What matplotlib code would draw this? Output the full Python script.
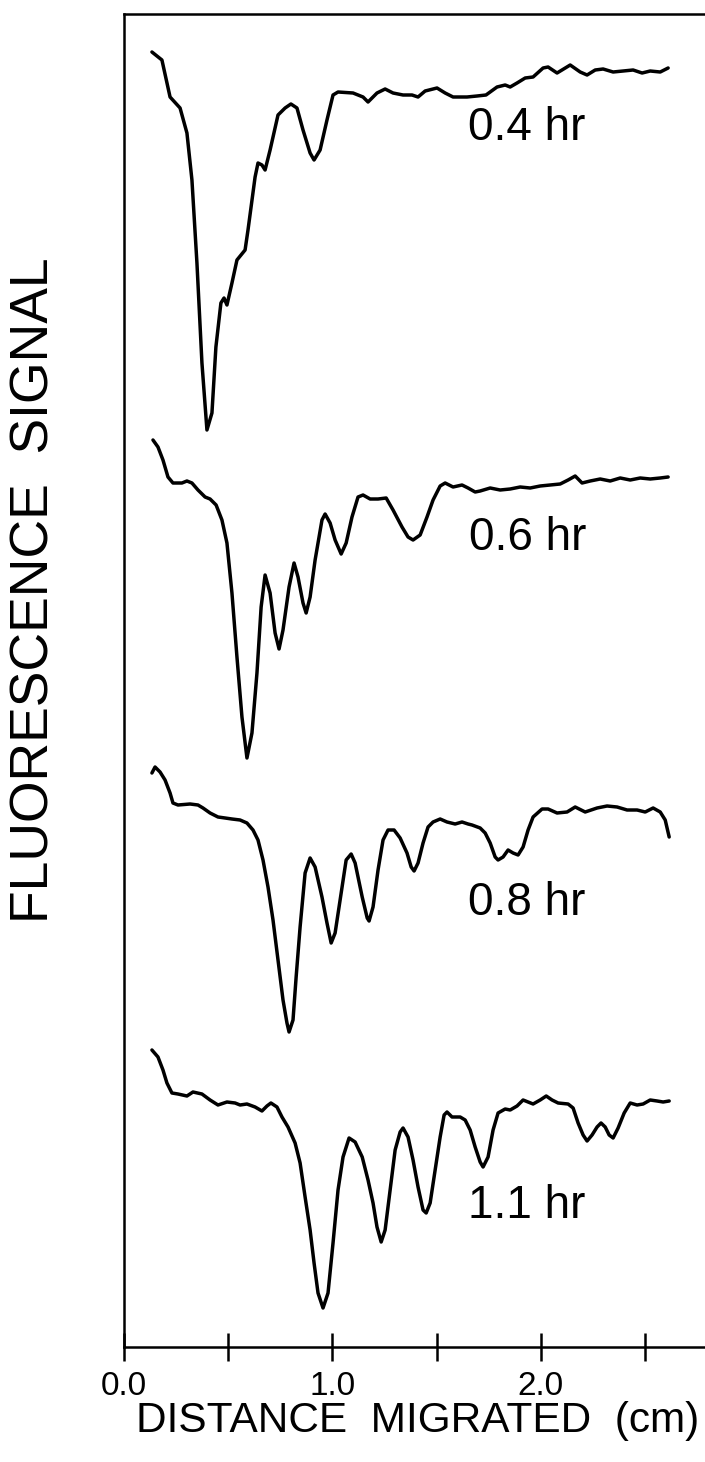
import matplotlib
matplotlib.use("Agg")
import matplotlib.pyplot as plt

plt.rcParams['font.family'] = ['Liberation Sans', 'DejaVu Sans']

# ---------------- data (distance in cm, fluorescence signal in arbitrary units) ----------------
labels = ["0.4 hr", "0.6 hr", "0.8 hr", "1.1 hr"]

x_04 = [0.134, 0.182, 0.221, 0.269, 0.302, 0.326, 0.350, 0.374, 0.398, 0.422, 0.441, 0.465,
        0.480, 0.494, 0.518, 0.542, 0.581, 0.595, 0.629, 0.643, 0.662, 0.677, 0.701, 0.739,
        0.773, 0.801, 0.830, 0.859, 0.893, 0.912, 0.941, 0.974, 1.003, 1.027, 1.099, 1.147,
        1.171, 1.214, 1.253, 1.291, 1.339, 1.382, 1.411, 1.445, 1.502, 1.541, 1.579, 1.646,
        1.694, 1.737, 1.790, 1.829, 1.853, 1.886, 1.925, 1.963, 2.011, 2.035, 2.078, 2.141,
        2.189, 2.222, 2.261, 2.299, 2.347, 2.395, 2.443, 2.486, 2.525, 2.573, 2.611]
y_04 = [1295, 1287, 1250, 1239, 1214, 1167, 1084, 984, 917, 934, 1000, 1044,
        1049, 1042, 1064, 1087, 1097, 1117, 1170, 1184, 1182, 1177, 1197, 1232,
        1239, 1243, 1239, 1217, 1194, 1187, 1197, 1227, 1252, 1255, 1254, 1250,
        1245, 1254, 1258, 1254, 1252, 1252, 1250, 1256, 1259, 1254, 1250, 1250,
        1251, 1252, 1260, 1262, 1260, 1264, 1269, 1270, 1279, 1280, 1274, 1282,
        1275, 1272, 1277, 1278, 1275, 1276, 1277, 1274, 1276, 1275, 1279]

x_06 = [0.139, 0.163, 0.187, 0.211, 0.235, 0.278, 0.302, 0.326, 0.355, 0.389, 0.413, 0.442,
        0.470, 0.494, 0.518, 0.542, 0.566, 0.590, 0.614, 0.638, 0.658, 0.677, 0.701, 0.725,
        0.744, 0.763, 0.792, 0.816, 0.835, 0.859, 0.874, 0.893, 0.917, 0.950, 0.965, 0.989,
        1.013, 1.042, 1.066, 1.094, 1.123, 1.147, 1.181, 1.219, 1.258, 1.291, 1.334, 1.363,
        1.387, 1.421, 1.454, 1.483, 1.517, 1.541, 1.579, 1.622, 1.651, 1.685, 1.709, 1.757,
        1.805, 1.853, 1.901, 1.949, 1.997, 2.045, 2.093, 2.131, 2.165, 2.198, 2.237, 2.285,
        2.333, 2.381, 2.429, 2.477, 2.525, 2.573, 2.611]
y_06 = [907, 900, 887, 870, 864, 864, 866, 864, 857, 850, 848, 842,
        827, 804, 754, 690, 630, 589, 614, 674, 740, 772, 754, 714,
        698, 717, 760, 784, 770, 744, 734, 750, 787, 827, 833, 824,
        807, 793, 804, 830, 850, 852, 848, 848, 849, 837, 820, 810,
        807, 812, 830, 847, 861, 864, 860, 862, 859, 855, 856, 859,
        857, 858, 860, 859, 861, 862, 863, 867, 871, 864, 866, 868,
        866, 869, 867, 869, 868, 869, 870]

x_08 = [0.134, 0.149, 0.173, 0.197, 0.221, 0.235, 0.259, 0.317, 0.355, 0.379, 0.413, 0.451,
        0.485, 0.518, 0.557, 0.590, 0.619, 0.643, 0.667, 0.691, 0.715, 0.739, 0.763, 0.782,
        0.792, 0.811, 0.826, 0.845, 0.869, 0.893, 0.917, 0.950, 0.974, 0.994, 1.013, 1.037,
        1.066, 1.090, 1.109, 1.143, 1.167, 1.176, 1.195, 1.219, 1.243, 1.267, 1.296, 1.325,
        1.358, 1.378, 1.392, 1.411, 1.435, 1.459, 1.483, 1.517, 1.550, 1.589, 1.622, 1.651,
        1.670, 1.709, 1.733, 1.757, 1.781, 1.795, 1.819, 1.843, 1.867, 1.891, 1.915, 1.939,
        1.963, 2.006, 2.035, 2.078, 2.126, 2.165, 2.213, 2.270, 2.318, 2.366, 2.414, 2.462,
        2.501, 2.539, 2.573, 2.597, 2.616]
y_08 = [574, 580, 575, 567, 554, 544, 542, 543, 542, 539, 534, 530,
        529, 528, 527, 524, 517, 507, 487, 460, 427, 387, 347, 324,
        315, 327, 370, 420, 474, 489, 480, 450, 424, 404, 414, 447,
        487, 493, 484, 450, 429, 426, 440, 477, 507, 517, 517, 509,
        494, 480, 476, 484, 504, 520, 525, 528, 525, 523, 525, 523,
        522, 519, 514, 504, 490, 487, 490, 497, 494, 492, 500, 517,
        530, 538, 538, 534, 535, 540, 535, 539, 541, 540, 537, 537,
        535, 539, 535, 527, 510]

x_11 = [0.134, 0.163, 0.187, 0.206, 0.230, 0.259, 0.302, 0.331, 0.374, 0.413, 0.451, 0.494,
        0.533, 0.557, 0.590, 0.629, 0.662, 0.686, 0.705, 0.734, 0.758, 0.787, 0.821, 0.845,
        0.869, 0.893, 0.912, 0.931, 0.955, 0.979, 1.003, 1.027, 1.051, 1.080, 1.109, 1.143,
        1.171, 1.195, 1.214, 1.234, 1.253, 1.277, 1.301, 1.325, 1.339, 1.363, 1.387, 1.411,
        1.435, 1.450, 1.469, 1.493, 1.517, 1.536, 1.550, 1.574, 1.613, 1.637, 1.661, 1.685,
        1.709, 1.723, 1.747, 1.771, 1.795, 1.829, 1.853, 1.886, 1.915, 1.939, 1.963, 1.997,
        2.026, 2.054, 2.083, 2.131, 2.155, 2.179, 2.203, 2.222, 2.246, 2.270, 2.289, 2.309,
        2.328, 2.347, 2.371, 2.400, 2.429, 2.462, 2.491, 2.525, 2.558, 2.587, 2.616]
y_11 = [297, 290, 277, 264, 254, 253, 251, 255, 253, 247, 242, 245,
        244, 242, 243, 240, 236, 241, 244, 240, 230, 220, 204, 184,
        150, 117, 84, 54, 39, 54, 104, 157, 190, 209, 205, 190,
        167, 144, 120, 105, 117, 157, 197, 215, 219, 210, 187, 160,
        137, 134, 144, 177, 210, 232, 235, 230, 230, 227, 217, 200,
        185, 180, 190, 217, 234, 238, 237, 241, 247, 245, 243, 247,
        251, 247, 244, 243, 239, 224, 212, 206, 212, 220, 224, 220,
        212, 209, 219, 234, 244, 242, 243, 247, 246, 245, 246]

xticks = [0.0, 0.5, 1.0, 1.5, 2.0, 2.5]
xticklabels = ["0.0", "", "1.0", "", "2.0", ""]

# ---------------- figure ----------------
W, H = 705, 1462
fig = plt.figure(figsize=(W / 100, H / 100), dpi=100)
ax_left, ax_right, ax_top, ax_bottom = 124, 705, 13.5, 1347
ax = fig.add_axes([ax_left / W, 1 - ax_bottom / H,
                   (ax_right - ax_left) / W, (ax_bottom - ax_top) / H])

traces = [(x_04, y_04), (x_06, y_06), (x_08, y_08), (x_11, y_11)]
for xs, ys in traces:
    ax.plot(xs, ys, color="black", lw=2.5, solid_joinstyle="round", solid_capstyle="round")

ax.set_xlim(0, (ax_right - ax_left) / 208.4)
ax.set_ylim(0, ax_bottom - ax_top)

# trace labels
label_pos = [(1.651, 1207), (1.655, 797), (1.651, 432), (1.651, 129)]
for lab, (lx, ly) in zip(labels, label_pos):
    ax.text(lx, ly, lab, fontsize=33, ha="left", va="baseline", color="black")

ax.spines["right"].set_visible(False)
for s in ("left", "bottom", "top"):
    ax.spines[s].set_linewidth(1.8)

ax.set_xticks(xticks)
ax.set_xticklabels(xticklabels)
ax.tick_params(axis="x", direction="inout", length=20, width=1.8, pad=7, labelsize=24)
ax.set_yticks([])

fig.text((ax_left + ax_right) / 2 / W + 0.005, 1 - 1421 / H, "DISTANCE  MIGRATED  (cm)",
         fontsize=30.5, ha="center", va="center")
fig.text(35 / W, 1 - 590 / H, "FLUORESCENCE  SIGNAL", fontsize=38.5, rotation=90,
         ha="center", va="center")

fig.savefig("out.png", dpi=100)
